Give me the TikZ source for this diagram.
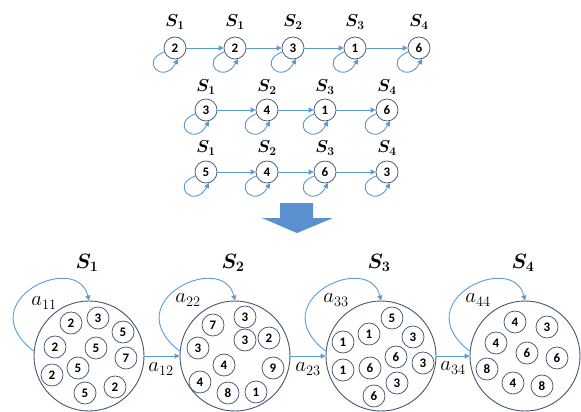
\documentclass[tikz,border=0pt]{standalone}
\usepackage{amsmath}
\usepackage{fontspec}
\newfontfamily\numfont{Carlito}
\usetikzlibrary{arrows.meta}
\definecolor{arr}{HTML}{5B9BD5}
\definecolor{ring}{HTML}{44566F}
\definecolor{bigarr}{HTML}{5A8FD0}
\begin{document}
\begin{tikzpicture}[x=1pt,y=-1pt,
 sc/.style={circle,draw=ring,line width=0.75pt,minimum size=22pt,inner sep=0pt,font=\numfont\bfseries\fontsize{13}{13}\selectfont},
 bc/.style={circle,draw=ring,line width=0.9pt,minimum size=110pt,inner sep=0pt},
 lab/.style={inner sep=0pt,font=\fontsize{17}{17}\selectfont},
 blab/.style={inner sep=0pt,font=\fontsize{20}{20}\selectfont},
 alab/.style={inner sep=0pt,font=\fontsize{21}{21}\selectfont},
 ar/.style={draw=arr,line width=0.9pt,-{Triangle[length=5pt,width=5pt]}},
]
\useasboundingbox (0,0) rectangle (581,412);

% ---- top rows ----
\foreach \x/\v/\s [count=\i] in {175/2/1,235/2/1,293/3/2,355/1/3,419/6/4}{
  \node[sc] (ta\i) at (\x,48) {\v};
  \node[lab] (la\i) at (\x,22) {$\boldsymbol{S_{\s}}$};
  \draw[ar] (ta\i.200) .. controls +(-26,10) and +(-14,26) .. (ta\i.285);
}
\foreach \x/\v/\s [count=\i] in {206/3/1,267/4/2,325/1/3,387/6/4}{
  \node[sc] (tb\i) at (\x,110) {\v};
  \node[lab] (lb\i) at (\x,87) {$\boldsymbol{S_{\s}}$};
  \draw[ar] (tb\i.200) .. controls +(-26,10) and +(-14,26) .. (tb\i.285);
}
\foreach \x/\v/\s [count=\i] in {206/5/1,267/4/2,325/6/3,387/3/4}{
  \node[sc] (tc\i) at (\x,172) {\v};
  \node[lab] (lc\i) at (\x,148) {$\boldsymbol{S_{\s}}$};
  \draw[ar] (tc\i.200) .. controls +(-26,10) and +(-14,26) .. (tc\i.285);
}
\draw[ar] (ta1) -- (ta2);
\draw[ar] (ta2) -- (ta3);
\draw[ar] (ta3) -- (ta4);
\draw[ar] (ta4) -- (ta5);
\draw[ar] (tb1) -- (tb2);
\draw[ar] (tb2) -- (tb3);
\draw[ar] (tb3) -- (tb4);
\draw[ar] (tc1) -- (tc2);
\draw[ar] (tc2) -- (tc3);
\draw[ar] (tc3) -- (tc4);

% ---- block arrow ----
\fill[bigarr] (280,203) -- (313,203) -- (313,218) -- (333,218) -- (297,233) -- (262,218) -- (280,218) -- cycle;

% ---- bottom big states ----
\foreach \x/\s [count=\i] in {89/1,235/2,381/3,525/4}{
  \node[bc] (B\i) at (\x,356) {};
  \node[blab] (BL\i) at (\x-2,263) {$\boldsymbol{S_{\s}}$};
  \draw[ar] (B\i.175) .. controls +(-65,-50) and +(-12,-50) .. (B\i.90);
}
\draw[ar] (B1) -- (B2);
\draw[ar] (B2) -- (B3);
\draw[ar] (B3) -- (B4);

\node[alab] (a11) at (44,303) {$a_{11}$};
\node[alab] (a22) at (188,300) {$a_{22}$};
\node[alab] (a33) at (336,300) {$a_{33}$};
\node[alab] (a44) at (478,300) {$a_{44}$};
\node[alab] (a12) at (161,369) {$a_{12}$};
\node[alab] (a23) at (308,369) {$a_{23}$};
\node[alab] (a34) at (453,368) {$a_{34}$};

% ---- small items ----
\foreach \x/\y/\v [count=\i] in {71/323/2,98/318/3,123/332/5,55/347/2,96/348/5,126/358/7,52/375/2,78/368/5,115/387/2,85/393/5}{
  \node[sc] (p\i) at (\x,\y) {\v};
}
\foreach \x/\y/\v [count=\i] in {213/325/7,245/317/3,245/340/3,269/338/2,198/348/3,224/365/4,273/368/9,200/382/4,228/393/8,256/392/1}{
  \node[sc] (q\i) at (\x,\y) {\v};
}
\foreach \x/\y/\v [count=\i] in {392/318/5,369/334/1,413/337/3,343/342/1,396/357/6,423/363/3,343/370/1,370/368/6,397/383/3,374/396/6}{
  \node[sc] (r\i) at (\x,\y) {\v};
}
\foreach \x/\y/\v [count=\i] in {515/322/4,547/327/3,496/343/4,527/353/6,557/358/6,487/369/8,513/383/4,542/386/8}{
  \node[sc] (s\i) at (\x,\y) {\v};
}
\end{tikzpicture}
\end{document}
